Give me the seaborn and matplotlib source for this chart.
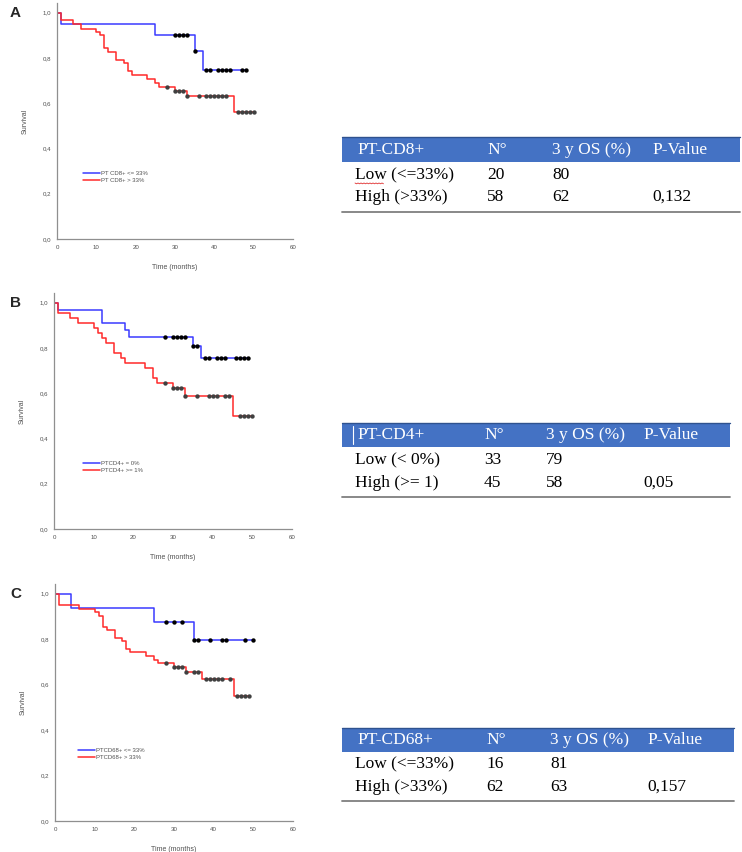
import numpy as np
import pandas as pd
import seaborn as sns
import matplotlib.pyplot as plt
from matplotlib.patches import Rectangle
from matplotlib.lines import Line2D

# Kaplan-Meier step points (time in months, survival)
a_low_t = [0, 1, 25, 35, 37, 48]
a_low_s = [1.0, 0.95, 0.90, 0.83, 0.747, 0.747]
a_low_cens = [30, 31, 32, 33, 35, 38, 39, 41, 42, 43, 44, 47, 48]
a_high_t = [0, 1, 4, 6, 10, 11, 12, 13, 15, 17, 18, 19, 23, 25, 26, 30, 33, 45, 50]
a_high_s = [1.0, 0.966, 0.95, 0.93, 0.915, 0.90, 0.845, 0.828, 0.793, 0.776, 0.741,
            0.724, 0.707, 0.69, 0.673, 0.655, 0.63, 0.56, 0.56]
a_high_cens = [28, 30, 31, 32, 33, 36, 38, 39, 40, 41, 42, 43, 46, 47, 48, 49, 50]

b_low_t = [0, 1, 12, 18, 19, 35, 37, 49]
b_low_s = [1.0, 0.97, 0.909, 0.879, 0.848, 0.81, 0.757, 0.757]
b_low_cens = [28, 30, 31, 32, 33, 35, 36, 38, 39, 41, 42, 43, 46, 47, 48, 49]
b_high_t = [0, 1, 4, 6, 10, 11, 12, 13, 15, 17, 18, 23, 25, 26, 30, 33, 45, 50]
b_high_s = [1.0, 0.956, 0.933, 0.911, 0.889, 0.867, 0.844, 0.822, 0.778, 0.756, 0.733,
            0.711, 0.667, 0.645, 0.622, 0.588, 0.50, 0.50]
b_high_cens = [28, 30, 31, 32, 33, 36, 39, 40, 41, 43, 44, 47, 48, 49, 50]

c_low_t = [0, 4, 25, 35, 50]
c_low_s = [1.0, 0.9375, 0.875, 0.797, 0.797]
c_low_cens = [28, 30, 32, 35, 36, 39, 42, 43, 48, 50]
c_high_t = [0, 1, 6, 10, 11, 12, 13, 15, 17, 18, 19, 23, 25, 26, 30, 33, 37, 45, 49]
c_high_s = [1.0, 0.95, 0.935, 0.919, 0.903, 0.855, 0.839, 0.806, 0.79, 0.758, 0.742,
            0.726, 0.71, 0.694, 0.678, 0.655, 0.627, 0.548, 0.548]
c_high_cens = [28, 30, 31, 32, 33, 35, 36, 38, 39, 40, 41, 42, 44, 46, 47, 48, 49]

legend_a = ["PT CD8+ <= 33%", "PT CD8+ > 33%"]
legend_b = ["PTCD4+ = 0%", "PTCD4+ >= 1%"]
legend_c = ["PTCD68+ <= 33%", "PTCD68+ > 33%"]

# summary tables
tab_header_a = ["PT-CD8+", "N°", "3 y OS (%)", "P-Value"]
tab_rows_a = [["Low (<=33%)", "20", "80", ""], ["High (>33%)", "58", "62", "0,132"]]
tab_header_b = ["PT-CD4+", "N°", "3 y OS (%)", "P-Value"]
tab_rows_b = [["Low (< 0%)", "33", "79", ""], ["High (>= 1)", "45", "58", "0,05"]]
tab_header_c = ["PT-CD68+", "N°", "3 y OS (%)", "P-Value"]
tab_rows_c = [["Low (<=33%)", "16", "81", ""], ["High (>33%)", "62", "63", "0,157"]]

W, H = 742, 852
sns.set_style("white")
plt.rcParams['font.family'] = ['Liberation Sans', 'DejaVu Sans']

fig = plt.figure(figsize=(W / 100, H / 100), dpi=100)


def fx(x):
    return x / W


def fy(y):
    return 1 - y / H


def step_val(t, s, x):
    idx = np.searchsorted(np.array(t), np.array(x), side="right") - 1
    return np.array(s)[idx]


BLUE = "#3a3aff"
RED = "#ff2a2a"
AXC = "#8f8f8f"
TXC = "#505050"


def km_panel(box, letter, low, high, labels, leg_pos):
    x0, x60, ytop, y0 = box
    ax = fig.add_axes([fx(x0), fy(y0), (x60 - x0) / W, (y0 - ytop) / H])
    for (t, s, cens), col, lab, mcol in [(low, BLUE, labels[0], "black"),
                                         (high, RED, labels[1], "#404040")]:
        df = pd.DataFrame({"time": t, "surv": s})
        sns.lineplot(data=df, x="time", y="surv", ax=ax, drawstyle="steps-post",
                     color=col, lw=1.1, estimator=None, sort=False, label=lab)
        sns.scatterplot(x=cens, y=step_val(t, s, cens), ax=ax, color=mcol,
                        s=10, marker="o", linewidth=0, zorder=3, legend=False)
    ax.set_xlim(0, 60)
    ax.set_ylim(0, 1.043)
    ax.set_xticks(range(0, 61, 10))
    ax.set_yticks([0, 0.2, 0.4, 0.6, 0.8, 1.0])
    ax.set_yticklabels([f"{v:.1f}".replace(".", ",") for v in ax.get_yticks()])
    sns.despine(ax=ax)
    for sp in ["left", "bottom"]:
        ax.spines[sp].set_color(AXC)
        ax.spines[sp].set_linewidth(0.9)
    ax.tick_params(direction="out", length=2, width=0.6, colors=AXC,
                   labelsize=4.4, labelcolor=TXC, pad=2)
    ax.set_xlabel("Time (months)", fontsize=5, color=TXC)
    ax.set_ylabel("Survival", fontsize=5, color=TXC)
    ax.xaxis.set_label_coords(0.5, -0.105)
    ax.yaxis.set_label_coords(-0.12, 0.5)
    leg = ax.legend(loc="upper left", bbox_to_anchor=leg_pos, frameon=False,
                    fontsize=4.3, handlelength=2.9, handletextpad=0.2,
                    labelspacing=0.4, borderpad=0, borderaxespad=0)
    for txt in leg.get_texts():
        txt.set_color(TXC)
    fig.text(fx(10), fy(box[2] + 10), letter, fontsize=11, fontweight="bold",
             va="center", ha="left")


km_panel((57, 293, 3, 239), "A", (a_low_t, a_low_s, a_low_cens),
         (a_high_t, a_high_s, a_high_cens), legend_a, (0.11, 0.29))
km_panel((54, 292, 293, 529), "B", (b_low_t, b_low_s, b_low_cens),
         (b_high_t, b_high_s, b_high_cens), legend_b, (0.12, 0.29))
km_panel((55, 293, 584, 821), "C", (c_low_t, c_low_s, c_low_cens),
         (c_high_t, c_high_s, c_high_cens), legend_c, (0.095, 0.31))


def table(header, rows, cols, band, row_y, bottom, right):
    top, bot = band
    fig.add_artist(Rectangle((fx(342), fy(bot)), (right - 342) / W, (bot - top) / H,
                             transform=fig.transFigure, facecolor="#4472c4",
                             edgecolor="none"))
    fig.add_artist(Line2D([fx(342), fx(right)], [fy(top), fy(top)],
                          transform=fig.transFigure, color="#2f528f", lw=1))
    for x, txt in zip(cols, header):
        fig.text(fx(x), fy((top + bot) / 2), txt, color="white", fontsize=12.5,
                 family="Liberation Serif", va="center", ha="left")
    for y, row in zip(row_y, rows):
        for i, (x, txt) in enumerate(zip(cols, row)):
            fig.text(fx(x - 2 if i == 0 else x), fy(y), txt, color="black",
                     fontsize=12.5, family="Liberation Serif", va="center", ha="left")
    fig.add_artist(Line2D([fx(342), fx(right)], [fy(bottom), fy(bottom)],
                          transform=fig.transFigure, color="#7f7f7f", lw=1.3))


table(tab_header_a, tab_rows_a, [357, 487, 552, 652], (137, 162), [175, 197], 212, 740)
table(tab_header_b, tab_rows_b, [357, 484, 546, 643], (423, 447), [460, 483], 497, 730)
table(tab_header_c, tab_rows_c, [357, 486, 550, 647], (728, 752), [764, 787], 801, 734)

# spell-check squiggle under "Low" and text cursor in table B
zx = np.arange(355, 384, 1.5)
zy = 183 + 0.8 * (np.arange(len(zx)) % 2)
fig.add_artist(Line2D(fx(zx), fy(zy), transform=fig.transFigure, color="#e03030", lw=0.6))
fig.add_artist(Line2D([fx(353), fx(353)], [fy(426), fy(444)],
                      transform=fig.transFigure, color="white", lw=0.8))

fig.savefig("out.png", dpi=100)
